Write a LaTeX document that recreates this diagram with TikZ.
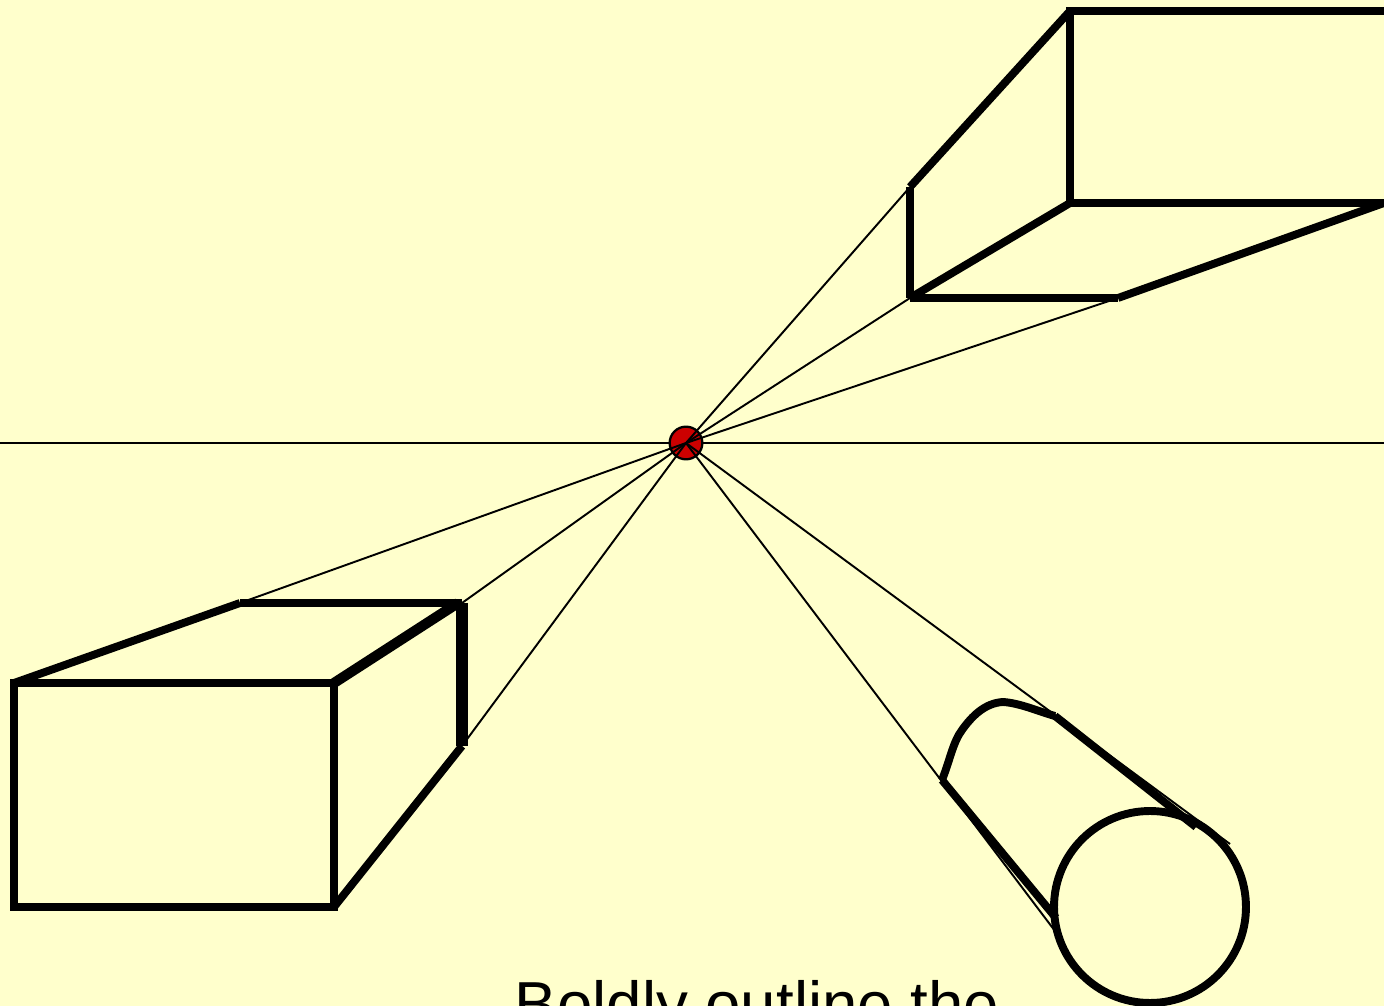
\documentclass[tikz,border=0pt]{standalone}
\usepackage{fontspec}
\usepackage{xcolor}
\setmainfont{Liberation Sans}
\definecolor{paper}{RGB}{255,255,204}
\definecolor{vpred}{RGB}{204,0,0}
\tikzset{
  thinline/.style={line width=1.1pt, black},
  boldline/.style={line width=4.5pt, black},
  heavyline/.style={line width=5.8pt, black},
  vpdot/.style={circle, draw=black, line width=1.3pt, fill=vpred, minimum size=18.6pt, inner sep=0pt},
}
\begin{document}
\begin{tikzpicture}[x=0.02cm, y=-0.02cm]
\fill[paper] (0,0) rectangle (1384,1006);
\useasboundingbox (0,0) rectangle (1384,1006);
\clip (0,0) rectangle (1384,1006);
% horizon
\coordinate (hl) at (0,443);
\coordinate (hr) at (1384,443);
\draw[thinline] (hl) -- (hr);
\node[vpdot] (vp) at (686,443) {};
% lower left box
\coordinate (la) at (14,683);
\coordinate (lb) at (334,683);
\coordinate (lc) at (334,907);
\coordinate (ld) at (14,907);
\coordinate (le) at (240,603);
\coordinate (lf) at (458,603);
\coordinate (lg) at (462,603);
\coordinate (lh) at (462,746);
% upper right box
\coordinate (ra) at (1070,11);
\coordinate (rb) at (1384,11);
\coordinate (rc) at (1070,203);
\coordinate (rd) at (1384,203);
\coordinate (re) at (910,187);
\coordinate (rf) at (910,298);
\coordinate (rg) at (1118,298);
% cylinder
\coordinate (ca) at (942,780);
\coordinate (cb) at (1055,716);
\coordinate (cc) at (1196,827);
\coordinate (cd) at (1230,844);
\coordinate (ce) at (1058,935);
\coordinate (cf) at (1056,918);
% rays from the vanishing point
\foreach \pt in {le,lg,lh,re,rf,rg,cd,ce} {
  \draw[thinline] (vp.center) -- (\pt);
}
% box fronts and sides
\draw[boldline] (la) rectangle (lc);
\draw[boldline] (la) -- (le);
\draw[boldline] (le) -- (lg);
\draw[heavyline] (lb) -- (lf);
\draw[line width=6.6pt] (lg) -- (lh);
\draw[boldline] (lh) -- (lc);
\draw[boldline] (rb) -- (ra) -- (rc) -- (rd);
\draw[boldline] (ra) -- (re);
\draw[boldline] (re) -- (rf);
\draw[boldline] (rf) -- (rc);
\draw[boldline] (rf) -- (rg);
\draw[boldline] (rg) -- (rd);
% cylinder outline
\node[circle, draw=black, boldline, minimum size=3.84cm, inner sep=0pt] (cyl) at (1150,907) {};
\draw[boldline] (ca) .. controls (950,760) and (953,742) .. (962,730)
  .. controls (972,716) and (985,703) .. (1003,702)
  .. controls (1020,703) and (1040,712) .. (cb);
\draw[boldline] (cb) -- (cc);
\draw[boldline] (ca) -- (cf);
\node[font=\fontsize{36.2pt}{40pt}\selectfont, anchor=base] (caption) at (757,1026) {Boldly outline the};
\end{tikzpicture}
\end{document}
